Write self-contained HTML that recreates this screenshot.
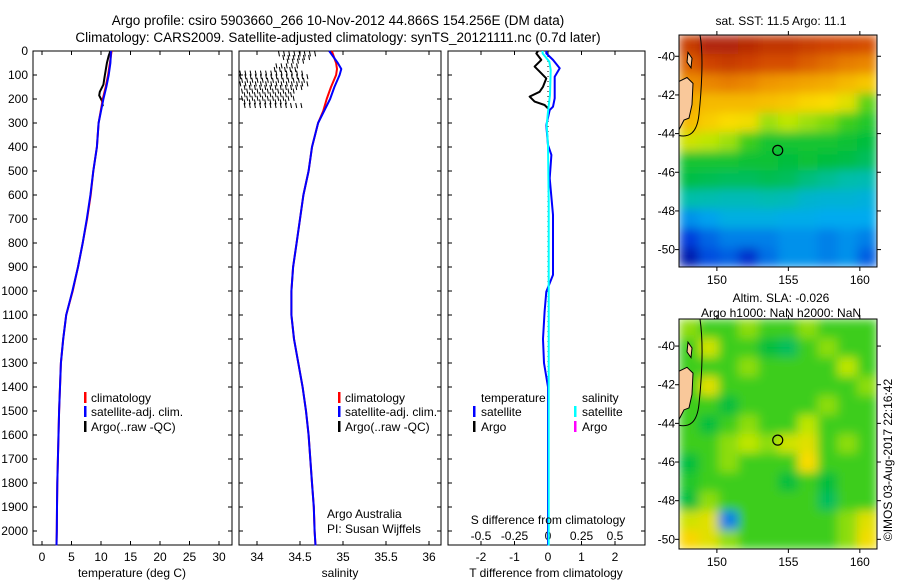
<!DOCTYPE html>
<html><head><meta charset="utf-8"><style>
body{margin:0;background:#fff;}
svg{display:block;font-family:"Liberation Sans",sans-serif;}
text{fill:#000;}
</style></head><body>
<svg id="fig" width="900" height="580" viewBox="0 0 900 580">
<defs>
<filter id="blur" x="0" y="0" width="100%" height="100%"><feGaussianBlur stdDeviation="5" edgeMode="duplicate"/></filter>
<clipPath id="c1"><rect x="679" y="35" width="198" height="232"/></clipPath>
<clipPath id="c2"><rect x="679" y="319" width="198" height="230"/></clipPath>
</defs>
<text x="338" y="25" font-size="13.5" text-anchor="middle">Argo profile: csiro 5903660_266 10-Nov-2012 44.866S 154.256E (DM data)</text>
<text x="338" y="42" font-size="13.5" text-anchor="middle">Climatology: CARS2009. Satellite-adjusted climatology: synTS_20121111.nc (0.7d later)</text>
<g id="p1"></g>
<g id="p2"></g>
<g id="p3"></g>
<g id="m1"></g>
<g id="m2"></g>
<text x="781" y="25" font-size="12" text-anchor="middle">sat. SST: 11.5 Argo: 11.1</text>
<text x="781" y="302" font-size="12" text-anchor="middle">Altim. SLA: -0.026</text>
<text x="781" y="317" font-size="12" text-anchor="middle">Argo h1000: NaN h2000: NaN</text>
<text transform="translate(892,460) rotate(-90)" font-size="12" text-anchor="middle">©IMOS 03-Aug-2017 22:16:42</text>
</svg>
<script>
// ---- data ----
const depthLevels=[0,50,100,150,200,300,400,500,600,700,800,900,1000,1100,1200,1300,1400,1500,1600,1700,1800,1900,2000,2060];
const tempClim=[11.8,11.5,11.2,10.8,10.3,9.6,9.3,8.7,8.25,7.65,6.9,6.1,5.2,4.1,3.6,3.2,3.05,2.9,2.8,2.7,2.6,2.55,2.5,2.45];
const tempSat=[11.7,11.6,11.3,10.9,10.4,9.6,9.3,8.7,8.2,7.6,6.9,6.1,5.15,4.1,3.6,3.2,3.05,2.9,2.8,2.7,2.6,2.55,2.5,2.45];
const argoTDepth=[0,20,50,80,110,140,170,185,200,210,230];
const argoTemp=[11.6,11.3,11.0,10.8,10.6,10.4,9.8,9.7,10.0,10.2,10.3];
const salDepth=[0,50,75,100,150,200,250,300,400,500,600,700,800,900,1000,1100,1200,1300,1400,1500,1600,1700,1800,1900,2000,2060];
const salClim=[34.87,34.92,34.93,34.92,34.86,34.81,34.77,34.71,34.64,34.6,34.54,34.5,34.46,34.42,34.4,34.4,34.43,34.48,34.53,34.57,34.6,34.62,34.64,34.66,34.67,34.68];
const salSat=[34.84,34.94,34.98,34.96,34.9,34.85,34.78,34.71,34.64,34.6,34.54,34.5,34.46,34.42,34.4,34.4,34.43,34.48,34.53,34.57,34.6,34.62,34.64,34.66,34.67,34.68];
const argoSalRowDepth=[10,25,40,60,75,90,105,120,135,150,165,180,195,210,225];
const argoSalMin=[34.25,34.3,34.35,34.22,34.2,33.8,33.8,33.82,33.8,33.85,33.82,33.85,33.82,33.85,33.85];
const argoSalMax=[34.68,34.65,34.55,34.5,34.45,34.55,34.62,34.6,34.62,34.52,34.45,34.4,34.45,34.35,34.55];
const dTDepth=[0,10,37,65,86,114,149,170,190,211,225,239];
const dTArgo=[-0.3,-0.35,-0.2,-0.4,-0.25,-0.05,-0.15,-0.25,-0.55,-0.4,-0.1,0];
const dSatDepth=[0,10,37,72,107,197,232,246,309,392,433,530,683,933,1003,1086,1200,1300,1400,1500,2060];
const dTSat=[-0.05,-0.05,0.15,0.35,0.2,0.2,0.15,0.05,-0.05,0,0.1,0.05,0.15,0.15,-0.05,-0.1,-0.15,-0.12,0,0,0];
const dSDepth=[0,10,44,79,183,253,309,392,628,1086,2060];
const dSSat=[-0.04,-0.04,0.01,0.02,0.015,0,-0.01,0,0.005,0.005,0.005];
const depthTicks=[0,100,200,300,400,500,600,700,800,900,1000,1100,1200,1300,1400,1500,1600,1700,1800,1900,2000];
const tempTicks=[0,5,10,15,20,25,30];
const salTicks=[34,34.5,35,35.5,36];
const salTickLabels=["34","34.5","35","35.5","36"];
const dTTicks=[-2,-1,0,1,2];
const dSTicks=[-0.5,-0.25,0,0.25,0.5];
const dSTickLabels=["-0.5","-0.25","0","0.25","0.5"];
const latTicks=[-40,-42,-44,-46,-48,-50];
const lonTicks=[150,155,160];
const sstGrid=[
[.88,.95,.95,.93,.9,.9,.88,.86,.85,.84],
[.82,.86,.88,.86,.84,.84,.82,.8,.78,.77],
[.76,.77,.78,.77,.75,.74,.73,.72,.7,.68],
[.72,.7,.7,.7,.69,.68,.66,.65,.62,.52],
[.7,.67,.65,.64,.56,.58,.56,.54,.5,.48],
[.6,.58,.56,.5,.47,.47,.47,.47,.46,.45],
[.47,.47,.47,.46,.46,.45,.46,.45,.44,.42],
[.44,.43,.42,.42,.43,.42,.39,.37,.35,.34],
[.35,.34,.33,.33,.34,.33,.3,.29,.29,.28],
[.22,.24,.27,.27,.27,.26,.26,.25,.25,.25],
[.12,.17,.2,.2,.2,.22,.22,.2,.22,.2],
[.06,.14,.16,.1,.18,.22,.22,.2,.22,.16]];
const slaGrid=[
[.55,.5,.5,.55,.5,.5,.55,.5,.5,.5],
[.5,.6,.5,.5,.45,.42,.5,.55,.5,.5],
[.5,.5,.5,.55,.5,.5,.5,.5,.58,.5],
[.5,.62,.5,.5,.5,.5,.5,.5,.5,.55],
[.5,.5,.45,.5,.5,.5,.5,.55,.5,.5],
[.5,.45,.5,.55,.5,.5,.58,.5,.5,.5],
[.5,.5,.55,.58,.55,.6,.62,.5,.55,.5],
[.45,.5,.55,.5,.5,.5,.65,.5,.5,.5],
[.48,.5,.5,.5,.5,.45,.5,.45,.5,.5],
[.45,.55,.5,.5,.5,.5,.5,.42,.5,.5],
[.6,.62,.2,.5,.5,.5,.5,.5,.55,.62],
[.66,.62,.55,.5,.5,.5,.5,.5,.55,.64]];
const argoLon=154.256, argoLat=-44.866;

// ---- helpers ----
const NS="http://www.w3.org/2000/svg";
function mk(parent,tag,attrs){const e=document.createElementNS(NS,tag);for(const k in attrs)e.setAttribute(k,attrs[k]);parent.appendChild(e);return e;}
const Y=d=>51+d*0.24;
const PT=v=>42+v*5.9;
const PS=v=>257+(v-34)*86;
const PD=v=>548+v*33.5;
const PDS=v=>548+v*134;
function line(g,xs,ds,fx,col,w,name){
  const pts=xs.map((v,i)=>fx(v).toFixed(1)+","+Y(ds[i]).toFixed(1)).join(" ");
  const p=mk(g,"polyline",{points:pts,fill:"none",stroke:col,"stroke-width":w,"stroke-linejoin":"round"});
  
  
}
function frame(g,x0,x1,name,showY){
  const r=mk(g,"rect",{x:x0,y:51,width:x1-x0,height:494,fill:"none",stroke:"#000","stroke-width":1});
  
  
  depthTicks.forEach(d=>{
    mk(g,"line",{x1:x0,x2:x0+4,y1:Y(d),y2:Y(d),stroke:"#000"});
    mk(g,"line",{x1:x1-4,x2:x1,y1:Y(d),y2:Y(d),stroke:"#000"});
    if(showY){const t=mk(g,"text",{x:28,y:Y(d)+4,"font-size":12,"text-anchor":"end"});t.textContent=d;
      
      }
  });
}
function xticks(g,vals,labels,fx,ylab,top){
  vals.forEach((v,i)=>{
    const x=fx(v);
    mk(g,"line",{x1:x,x2:x,y1:545,y2:541,stroke:"#000"});
    if(top) mk(g,"line",{x1:x,x2:x,y1:51,y2:55,stroke:"#000"});
    const t=mk(g,"text",{x:x,y:ylab,"font-size":12,"text-anchor":"middle"});t.textContent=labels[i];
    
    
  });
}
function txt(g,x,y,s,name,anchor){const t=mk(g,"text",{x:x,y:y,"font-size":12,"text-anchor":anchor||"start"});t.textContent=s;
  
  return t;}
function legBar(g,x,y,col){const r=mk(g,"rect",{x:x,y:y-10,width:2.5,height:11,fill:col});
  
  }

// ---- panel 1 ----
const p1=document.getElementById("p1");
frame(p1,33,232,"temperature-axes",true);
xticks(p1,tempTicks,tempTicks.map(String),PT,561,true);
line(p1,argoTemp,argoTDepth,PT,"#000",2,"argo-temperature-line");
line(p1,tempClim,depthLevels,PT,"#ff0000",2,"climatology-temperature-line");
line(p1,tempSat,depthLevels,PT,"#0000ff",2,"satellite-temperature-line");
txt(p1,132,577,"temperature (deg C)","x-axis-title-temperature","middle");
legBar(p1,84,402,"#f00");txt(p1,91,402,"climatology","legend-climatology");
legBar(p1,84,416,"#00f");txt(p1,91,416,"satellite-adj. clim.","legend-satellite");
legBar(p1,84,431,"#000");txt(p1,91,431,"Argo(..raw -QC)","legend-argo");

// ---- panel 2 ----
const p2=document.getElementById("p2");
frame(p2,239,441,"salinity-axes",false);
xticks(p2,salTicks,salTickLabels,PS,561,true);
argoSalRowDepth.forEach((d,i)=>{
  for(let s=argoSalMin[i];s<=argoSalMax[i];s+=0.06){
    const l=mk(p2,"line",{x1:PS(s),x2:PS(s)+1,y1:Y(d)-2,y2:Y(d)+3,stroke:"#000","stroke-width":1});
    
    
  }
});
line(p2,salClim,salDepth,PS,"#ff0000",2,"climatology-salinity-line");
line(p2,salSat,salDepth,PS,"#0000ff",2,"satellite-salinity-line");
txt(p2,340,577,"salinity","x-axis-title-salinity","middle");
legBar(p2,338,402,"#f00");txt(p2,345,402,"climatology","legend-climatology");
legBar(p2,338,416,"#00f");txt(p2,345,416,"satellite-adj. clim.","legend-satellite");
legBar(p2,338,431,"#000");txt(p2,345,431,"Argo(..raw -QC)","legend-argo");
txt(p2,327,518,"Argo Australia","credit-argo-australia");
txt(p2,327,533,"PI: Susan Wijffels","credit-pi");

// ---- panel 3 ----
const p3=document.getElementById("p3");
frame(p3,448,645,"difference-axes",false);
xticks(p3,dTTicks,dTTicks.map(String),PD,561,false);
dSTicks.forEach((v,i)=>{const x=PDS(v);mk(p3,"line",{x1:x,x2:x,y1:51,y2:55,stroke:"#000"});
  txt(p3,x,540,dSTickLabels[i],"s-diff-tick-label","middle");});
mk(p3,"line",{x1:548,x2:548,y1:51,y2:545,stroke:"#000","stroke-dasharray":"1,4"});
line(p3,dTArgo,dTDepth,PD,"#000",2,"argo-t-difference-line");
line(p3,dTSat,dSatDepth,PD,"#0000ff",2,"satellite-t-difference-line");
line(p3,dSSat,dSDepth,PDS,"#00ffff",2,"satellite-s-difference-line");
txt(p3,548,524,"S difference from climatology","s-diff-axis-title","middle");
txt(p3,546,577,"T difference from climatology","t-diff-axis-title","middle");
txt(p3,481,402,"temperature","legend-temperature-header");
legBar(p3,473,416,"#00f");txt(p3,481,416,"satellite","legend-t-satellite");
legBar(p3,473,431,"#000");txt(p3,481,431,"Argo","legend-t-argo");
txt(p3,582,402,"salinity","legend-salinity-header");
legBar(p3,574,416,"#0ff");txt(p3,582,416,"satellite","legend-s-satellite");
legBar(p3,574,431,"#f0f");txt(p3,582,431,"Argo","legend-s-argo");

// ---- maps ----
const cmapStops=[[0,0,0,130],[0.12,0,60,220],[0.25,0,170,240],[0.35,0,190,170],[0.45,0,190,60],[0.5,60,205,30],[0.58,190,230,0],[0.65,250,220,0],[0.75,240,150,0],[0.85,210,70,0],[1,160,20,10]];
function cmap(v){
  v=Math.max(0,Math.min(1,v));
  for(let i=1;i<cmapStops.length;i++){
    const a=cmapStops[i-1],b=cmapStops[i];
    if(v<=b[0]){const t=(v-a[0])/(b[0]-a[0]);
      return "rgb("+[1,2,3].map(k=>Math.round(a[k]+(b[k]-a[k])*t)).join(",")+")";}
  }
}
function drawMap(id,grid,top,bottom,latTop,latBot,name,clip){
  const g=document.getElementById(id);
  const x0=679,x1=877,lon0=147.35,lon1=161.2;
  const MX=l=>x0+(l-lon0)/(lon1-lon0)*(x1-x0);
  const MY=l=>top+(latTop-l)/(latTop-latBot)*(bottom-top);
  const rows=grid.length,cols=grid[0].length;
  const cw=(x1-x0)/cols,ch=(bottom-top)/rows;
  const cg=mk(g,"g",{"clip-path":"url(#"+clip+")"});
  const bg=mk(cg,"g",{filter:"url(#blur)"});
  grid.forEach((row,r)=>row.forEach((v,c)=>{
    const e=mk(bg,"rect",{x:x0+c*cw,y:top+r*ch,width:cw+0.5,height:ch+0.5,fill:cmap(v)});
    
    
  }));
  const land=mk(g,"path",{d:`M${x0} ${MY(-41.3)} L${x0+8} ${MY(-41.1)} L${x0+14} ${MY(-41.4)} L${x0+13} ${MY(-42.5)} L${x0+10} ${MY(-43.2)} L${x0+5} ${MY(-43.3)} L${x0} ${MY(-43.8)} Z`,fill:"#f9c89a",stroke:"#000","stroke-width":1});
  
  
  const isl=mk(g,"path",{d:`M${x0+9} ${MY(-39.8)} L${x0+13} ${MY(-40.1)} L${x0+12} ${MY(-40.6)} L${x0+8} ${MY(-40.3)} Z`,fill:"#f9c89a",stroke:"#000","stroke-width":1});
  
  
  const cont=mk(g,"path",{d:`M${x0+21} ${top} C${x0+25} ${MY(-40)} ${x0+22} ${MY(-42)} ${x0+20} ${MY(-43)} S${x0+10} ${MY(-44.2)} ${x0} ${MY(-44.1)}`,fill:"none",stroke:"#000","stroke-width":1});
  
  
  const m=mk(g,"circle",{cx:MX(argoLon),cy:MY(argoLat),r:5,fill:"none",stroke:"#000","stroke-width":1.2});
  
  
  const fr=mk(g,"rect",{x:x0,y:top,width:x1-x0,height:bottom-top,fill:"none",stroke:"#000"});
  
  
  latTicks.forEach(l=>{const y=MY(l);
    mk(g,"line",{x1:x0-4,x2:x0,y1:y,y2:y,stroke:"#000"});mk(g,"line",{x1:x1,x2:x1+4,y1:y,y2:y,stroke:"#000"});
    txt(g,x0-4,y+4,String(l),"lat-tick-label","end");});
  lonTicks.forEach(l=>{const x=MX(l);
    mk(g,"line",{x1:x,x2:x,y1:bottom,y2:bottom+4,stroke:"#000"});mk(g,"line",{x1:x,x2:x,y1:top-4,y2:top,stroke:"#000"});
    txt(g,x,bottom+17,String(l),"lon-tick-label","middle");});
}
drawMap("m1",sstGrid,35,267,-38.9,-50.9,"sst-map","c1");
drawMap("m2",slaGrid,319,549,-38.6,-50.5,"sla-map","c2");
</script>
</body></html>
